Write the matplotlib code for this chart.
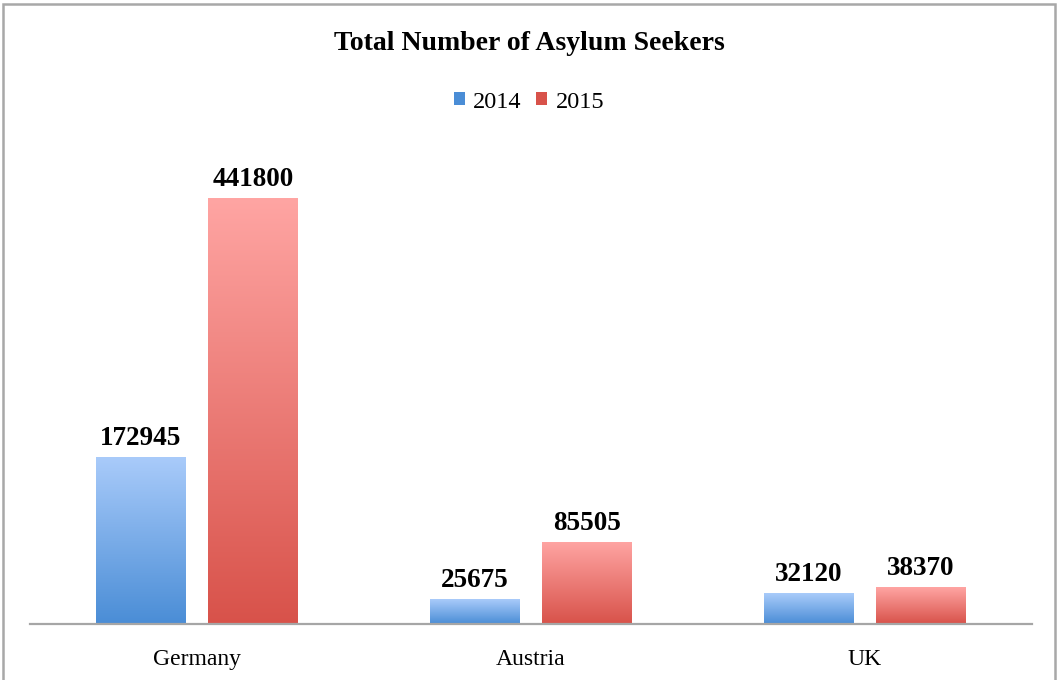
import numpy as np
import matplotlib.pyplot as plt
from matplotlib.colors import LinearSegmentedColormap
from matplotlib.patches import Rectangle

# Asylum applications per country
countries = ['Germany', 'Austria', 'UK']
years = ['2014', '2015']
seekers_2014 = [172945, 25675, 32120]
seekers_2015 = [441800, 85505, 38370]

# (top colour, bottom colour) for each year's vertical gradient
gradients = {
    '2014': ('#a9cbfa', '#4a8dd6'),
    '2015': ('#ffa5a3', '#d8524a'),
}

plt.rcParams['font.family'] = ['Liberation Serif', 'DejaVu Serif']

fig = plt.figure(figsize=(10.58, 6.80), dpi=100)
ax = fig.add_axes([30 / 1058, 56 / 680, 1002 / 1058, 482 / 680])

x = np.arange(len(countries))
width = 0.267
offset = 0.1675
ramp = np.linspace(0, 1, 256).reshape(-1, 1)

for year, values, shift in [('2014', seekers_2014, -offset), ('2015', seekers_2015, offset)]:
    top, bottom = gradients[year]
    cmap = LinearSegmentedColormap.from_list(year, [bottom, top])
    bars = ax.bar(x + shift, values, width, color=gradients[year][1], label=year, zorder=2)
    for bar, val in zip(bars, values):
        x0, y0 = bar.get_x(), bar.get_y()
        img = ax.imshow(ramp, cmap=cmap, aspect='auto', origin='lower',
                        extent=(x0, x0 + bar.get_width(), y0, y0 + bar.get_height()), zorder=3)
        img.set_clip_path(bar)
        ax.text(x0 + bar.get_width() / 2, val + 6000, str(val), ha='center', va='bottom',
                fontsize=19.5, fontweight='bold', zorder=4)

ax.set_xlim(-0.5, 2.5)
ax.set_ylim(0, 500000)
ax.set_xticks(x)
ax.set_xticklabels(countries, fontsize=17)
ax.tick_params(axis='x', length=0, pad=18)
ax.set_yticks([])
for side in ['top', 'left', 'right']:
    ax.spines[side].set_visible(False)
ax.spines['bottom'].set_color('#a6a6a6')
ax.spines['bottom'].set_linewidth(1.6)
ax.spines['bottom'].set_zorder(5)

fig.text(0.5, 1 - 43 / 680, 'Total Number of Asylum Seekers', ha='center', va='center',
         fontsize=20, fontweight='bold')

handles, labels = ax.get_legend_handles_labels()
fig.legend(handles, labels, loc='center', bbox_to_anchor=(0.5, 1 - 102 / 680), ncol=2,
           frameon=False, fontsize=17.5, handlelength=0.45, handleheight=0.45,
           handletextpad=0.35, columnspacing=0.6)

# thin grey frame around the whole chart
fig.patches.append(Rectangle((2.5 / 1058, -0.05), 1052 / 1058, 1.05 - 3.5 / 680,
                             transform=fig.transFigure, fill=False, edgecolor='#a8a8a8',
                             linewidth=1.8))

fig.savefig('out.png', dpi=100)
